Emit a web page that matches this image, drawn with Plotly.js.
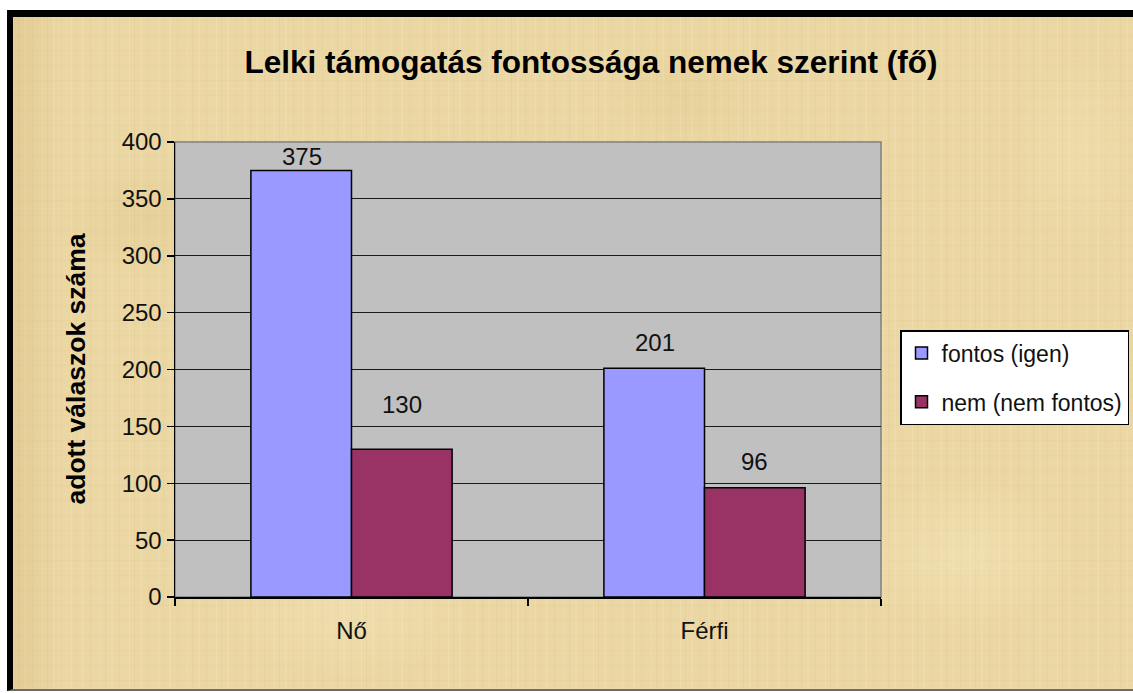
<!DOCTYPE html>
<html>
<head>
<meta charset="utf-8">
<script src="https://cdn.plot.ly/plotly-3.0.1.min.js"></script>
<style>
  html, body { margin: 0; padding: 0; background: #ffffff; width: 1133px; height: 693px; overflow: hidden; }
  #frame {
    position: absolute; left: 7px; top: 10px; width: 1126px; height: 681px;
    box-sizing: border-box;
    border-top: 7px solid #000; border-left: 6px solid #000; border-bottom: 2px solid #6b6b6b;
    background-color: #EBD7A3;
    background-image:
      radial-gradient(ellipse 140px 90px at 12% 30%, rgba(190,150,70,0.10), transparent 70%),
      radial-gradient(ellipse 160px 110px at 85% 80%, rgba(255,248,220,0.22), transparent 70%),
      radial-gradient(ellipse 120px 80px at 60% 12%, rgba(190,150,70,0.08), transparent 70%),
      radial-gradient(ellipse 180px 100px at 30% 88%, rgba(255,245,215,0.20), transparent 70%),
      radial-gradient(ellipse 90px 140px at 95% 20%, rgba(255,245,215,0.15), transparent 70%),
      linear-gradient(90deg, rgba(175,135,60,0.14) 0px, rgba(175,135,60,0) 50px),
      repeating-linear-gradient(90deg, rgba(255,248,220,0.16) 0 1px, transparent 1px 5px, rgba(170,130,60,0.06) 5px 6px, transparent 6px 11px, rgba(255,248,220,0.10) 11px 13px, transparent 13px 19px, rgba(170,130,60,0.05) 19px 20px, transparent 20px 29px),
      repeating-linear-gradient(0deg, rgba(255,248,220,0.07) 0 1px, transparent 1px 8px, rgba(160,120,50,0.04) 8px 9px, transparent 9px 15px);
  }
  #chart { position: absolute; left: 0; top: 0; width: 1133px; height: 693px; }
</style>
</head>
<body>
<div id="frame"></div>
<div id="chart"></div>
<script>
const categories = ['Nő', 'Férfi'];
const seriesNames = ['fontos (igen)', 'nem (nem fontos)'];
const fontosValues = [375, 201];
const nemValues = [130, 96];
const yTickValues = [0, 50, 100, 150, 200, 250, 300, 350, 400];
const chartTitle = 'Lelki támogatás fontossága nemek szerint (fő)';
const yAxisTitle = 'adott válaszok száma';

const FONT = 'Arial, "Liberation Sans", sans-serif';

// label placement (styling only): horizontal offset of each series within a group,
// and the lift of each value label above its bar, as in the original
const seriesShift = [-50, 50];
const labelLift = [[-2, 10], [29, 11]];

const traces = [
  {
    type: 'bar', name: seriesNames[0], x: categories, y: fontosValues,
    legendgroup: 'a',
    marker: { color: '#9999FF', line: { color: '#000000', width: 1.5 } },
    hoverinfo: 'none'
  },
  {
    type: 'bar', name: seriesNames[1], x: categories, y: nemValues,
    legendgroup: 'b',
    marker: { color: '#993366', line: { color: '#000000', width: 1.5 } },
    hoverinfo: 'none'
  }
];

const valueLabels = [];
[fontosValues, nemValues].forEach(function (vals, s) {
  vals.forEach(function (v, i) {
    valueLabels.push({
      text: String(v), xref: 'x', yref: 'y', x: categories[i], y: v,
      xshift: seriesShift[s], yshift: labelLift[s][i], yanchor: 'bottom', xanchor: 'center',
      showarrow: false, font: { family: FONT, size: 24, color: '#111' }
    });
  });
});

const layout = {
  width: 1133, height: 693,
  margin: { l: 175, r: 252, t: 142, b: 96, pad: 0 },
  paper_bgcolor: 'rgba(0,0,0,0)',
  plot_bgcolor: '#C0C0C0',
  font: { family: FONT, color: '#111' },
  barmode: 'group', bargap: 0.43, bargroupgap: 0,
  showlegend: true,
  title: {
    text: '<b>' + chartTitle + '</b>',
    font: { family: FONT, size: 31.5, color: '#000' },
    x: 591 / 1133, xanchor: 'center', xref: 'container',
    y: 1 - 62 / 693, yanchor: 'middle', yref: 'container'
  },
  xaxis: {
    type: 'category',
    showline: true, linecolor: '#000', linewidth: 1.5,
    ticks: 'outside', tickson: 'boundaries', ticklen: 7, tickcolor: '#000', tickwidth: 1.5,
    tickfont: { family: FONT, size: 24, color: '#111' },
    ticklabelstandoff: 12,
    showgrid: false, zeroline: false
  },
  yaxis: {
    range: [0, 400], tickvals: yTickValues, ticktext: yTickValues.map(String),
    showline: true, linecolor: '#000', linewidth: 1.5,
    ticks: 'outside', ticklen: 7, tickcolor: '#000', tickwidth: 1.5,
    tickfont: { family: FONT, size: 24, color: '#111' },
    showgrid: true, gridcolor: '#1a1a1a', gridwidth: 1.2,
    zeroline: false
  },
  legend: {
    xref: 'container', yref: 'container',
    x: 900 / 1133, xanchor: 'left',
    y: 1 - 330 / 693, yanchor: 'top',
    bgcolor: '#FFFFFF', bordercolor: '#000', borderwidth: 1.5,
    font: { family: FONT, size: 23, color: '#111' },
    traceorder: 'grouped', tracegroupgap: 16,
    itemwidth: 30
  },
  shapes: [
    { type: 'rect', xref: 'paper', yref: 'paper', x0: 0, x1: 1, y0: 0, y1: 1,
      line: { color: '#808080', width: 1.5 }, fillcolor: 'rgba(0,0,0,0)', layer: 'below' }
  ],
  annotations: valueLabels.concat([
    { text: '<b>' + yAxisTitle + '</b>', xref: 'paper', yref: 'paper',
      x: (75 - 175) / 706, y: 0.5, xanchor: 'center', yanchor: 'middle',
      textangle: -90, showarrow: false,
      font: { family: FONT, size: 26.5, color: '#000' } }
  ])
};

Plotly.newPlot('chart', traces, layout, { displayModeBar: false, staticPlot: true });
</script>
</body>
</html>
